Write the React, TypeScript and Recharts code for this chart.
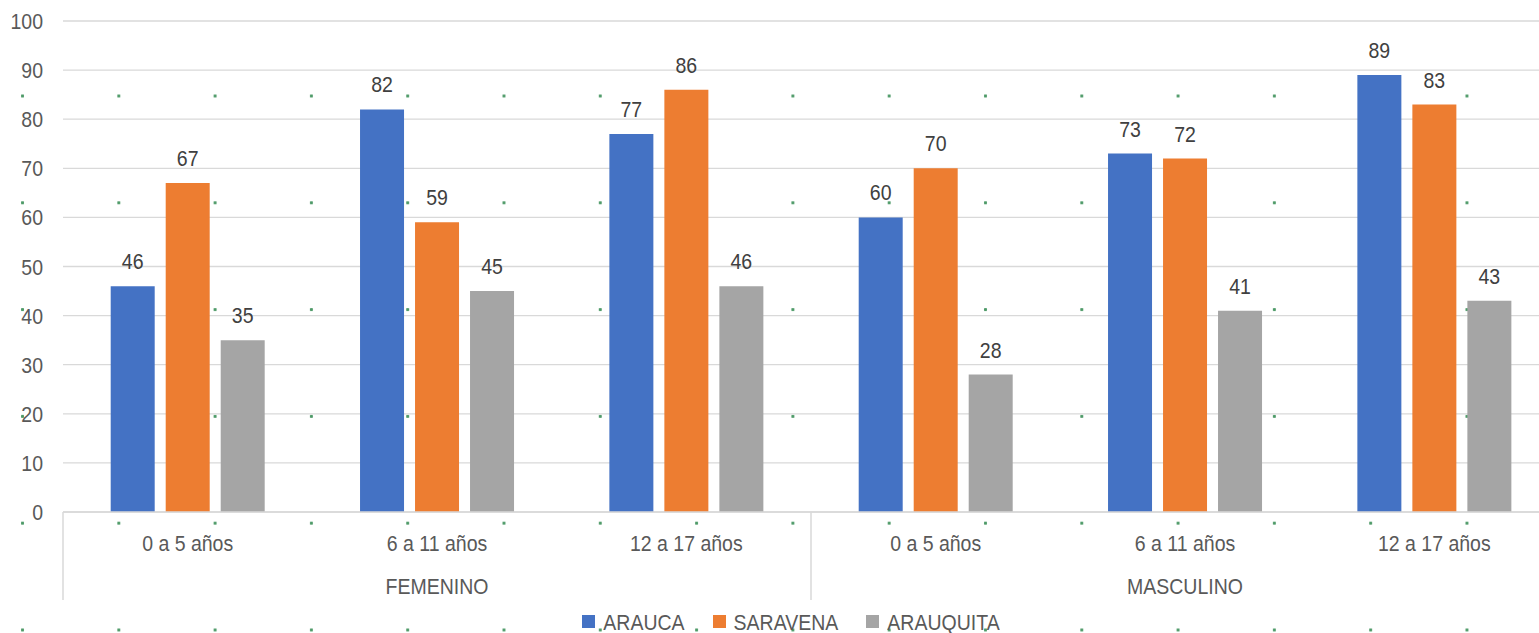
import React from 'react';
import { BarChart, Bar, XAxis, YAxis, CartesianGrid, LabelList, Legend } from 'recharts';

const ageGroups = ['0 a 5 años', '6 a 11 años', '12 a 17 años', '0 a 5 años', '6 a 11 años', '12 a 17 años'];
const sexGroups = ['FEMENINO', 'FEMENINO', 'FEMENINO', 'MASCULINO', 'MASCULINO', 'MASCULINO'];
const arauca = [46, 82, 77, 60, 73, 89];
const saravena = [67, 59, 86, 70, 72, 83];
const arauquita = [35, 45, 46, 28, 41, 43];
const yTicks = [0, 10, 20, 30, 40, 50, 60, 70, 80, 90, 100];
const seriesNames = ['ARAUCA', 'SARAVENA', 'ARAUQUITA'];
const seriesColors = ['#4472C4', '#ED7D31', '#A5A5A5'];

const data = ageGroups.map((age, i) => ({
  key: i,
  age,
  sex: sexGroups[i],
  ARAUCA: arauca[i],
  SARAVENA: saravena[i],
  ARAUQUITA: arauquita[i],
}));

const W = 1539;
const H = 633;
const CHART_W = 1559;
const Y_AXIS_W = 63;
const BAND = (CHART_W - Y_AXIS_W) / data.length;
const FONT = '"Liberation Sans", Arial, sans-serif';
const FS = 19.5;
const SY = 1.17;

const ScaledText = ({ x, y, text, anchor = 'middle', fill = '#595959' }: any) => (
  <text
    transform={`translate(${x},${y}) scale(1,${SY})`}
    textAnchor={anchor}
    dominantBaseline="central"
    fontFamily={FONT}
    fontSize={FS}
    fill={fill}
  >
    {text}
  </text>
);

const YTick = (props: any) => {
  const { y, payload } = props;
  return <ScaledText x={Y_AXIS_W - 20} y={y} text={payload.value} anchor="end" />;
};

const AgeTick = (props: any) => {
  const { x, y, payload } = props;
  return <ScaledText x={x} y={y + 23} text={ageGroups[payload.value]} />;
};

const SexTick = (props: any) => {
  const { x, y, payload } = props;
  const i = payload.value;
  const items: any[] = [];
  if (i === 0 || i === 3) {
    items.push(
      <line key="l" x1={x - BAND / 2} x2={x - BAND / 2} y1={y - 52} y2={y + 36} stroke="#d9d9d9" strokeWidth={1.5} />
    );
  }
  if (i === 1 || i === 4) {
    items.push(<ScaledText key="t" x={x} y={y + 22} text={sexGroups[i]} />);
  }
  return <g>{items}</g>;
};

const BarLabel = (props: any) => {
  const { x, y, width, value } = props;
  return <ScaledText x={x + width / 2} y={y - 25} text={value} fill="#404040" />;
};

const LegendContent = () => (
  <div
    style={{
      display: 'flex',
      justifyContent: 'center',
      alignItems: 'center',
      height: 33,
      paddingTop: 10,
      boxSizing: 'border-box',
      paddingLeft: 23,
      fontFamily: FONT,
      fontSize: FS,
      color: '#595959',
    }}
  >
    {seriesNames.map((n, i) => (
      <div key={n} style={{ display: 'flex', alignItems: 'center', marginRight: i < 2 ? 28 : 0 }}>
        <span style={{ width: 13, height: 13, background: seriesColors[i], display: 'inline-block', marginRight: 8 }} />
        <span style={{ display: 'inline-block', transform: `scaleY(${SY})`, lineHeight: '20px' }}>{n}</span>
      </div>
    ))}
  </div>
);

export default function App() {
  return (
    <div
      style={{
        position: 'absolute',
        left: 0,
        top: 0,
        width: W,
        height: H,
        overflow: 'hidden',
        background: '#ffffff',
        backgroundImage: 'radial-gradient(circle at center, #4e9a68 0px, #4e9a68 1.3px, rgba(78,154,104,0) 2px)',
        backgroundSize: '96.3px 106.8px',
        backgroundPosition: '-25.65px 42.6px',
      }}
    >
      <BarChart
        width={CHART_W}
        height={H}
        data={data}
        margin={{ top: 21, right: 0, left: 0, bottom: 0 }}
        barCategoryGap={47.7}
        barGap={11}
      >
        <CartesianGrid vertical={false} stroke="#d9d9d9" strokeWidth={1.3} />
        <YAxis
          width={Y_AXIS_W}
          domain={[0, 100]}
          ticks={yTicks}
          axisLine={false}
          tickLine={false}
          tick={<YTick />}
          interval={0}
        />
        <XAxis
          dataKey="key"
          height={44}
          axisLine={{ stroke: '#d9d9d9', strokeWidth: 1.5 }}
          tickLine={false}
          tick={<AgeTick />}
          interval={0}
        />
        <XAxis
          xAxisId="sex"
          dataKey="key"
          height={44}
          axisLine={false}
          tickLine={false}
          tick={<SexTick />}
          interval={0}
        />
        <Legend verticalAlign="bottom" height={33} content={<LegendContent />} />
        {seriesNames.map((n, i) => (
          <Bar key={n} dataKey={n} fill={seriesColors[i]} isAnimationActive={false}>
            <LabelList dataKey={n} content={<BarLabel />} />
          </Bar>
        ))}
      </BarChart>
    </div>
  );
}
